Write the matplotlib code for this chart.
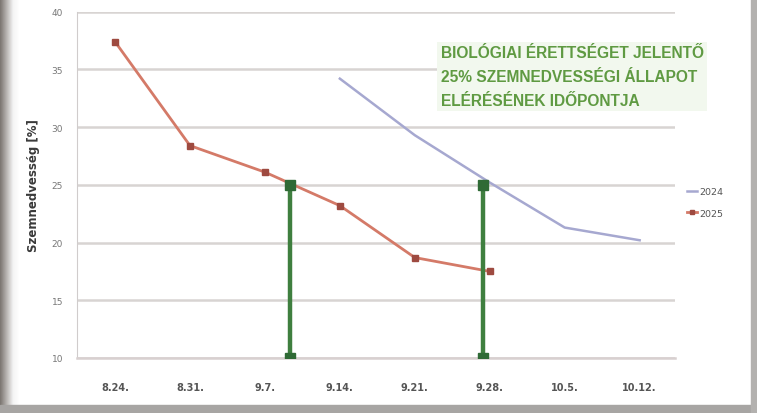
import datetime as dt
import numpy as np
import matplotlib
matplotlib.use("Agg")
import matplotlib.pyplot as plt
import matplotlib.dates as mdates
from matplotlib.patches import Rectangle

# Grain moisture measurements (month-day, moisture %)
dates_2024 = ["09-14", "09-21", "09-28", "10-05", "10-12"]
moist_2024 = [34.2, 29.3, 25.2, 21.3, 20.2]

dates_2025 = ["08-24", "08-31", "09-07", "09-14", "09-21", "09-28"]
moist_2025 = [37.4, 28.4, 26.1, 23.2, 18.7, 17.5]

# Dates (with hour) on which the 25 % moisture level was reached
threshold = 25
reach_dates = ["09-09 09", "09-27 08"]

tick_dates = ["08-24", "08-31", "09-07", "09-14", "09-21", "09-28", "10-05", "10-12"]
tick_labels = ["8.24.", "8.31.", "9.7.", "9.14.", "9.21.", "9.28.", "10.5.", "10.12."]
y_ticks = [10, 15, 20, 25, 30, 35, 40]

note = "BIOLÓGIAI ÉRETTSÉGET JELENTŐ\n25% SZEMNEDVESSÉGI ÁLLAPOT\nELÉRÉSÉNEK IDŐPONTJA"


def to_num(md):
    parts = md.split()
    m, d = parts[0].split("-")
    h = int(parts[1]) if len(parts) > 1 else 0
    return mdates.date2num(dt.datetime(2025, int(m), int(d), h))


fig = plt.figure(figsize=(7.57, 4.14), dpi=100)
fig.patch.set_facecolor("white")

# window frame: shaded left strip, bottom and right edges
frame = fig.add_axes([0, 0, 1, 1], zorder=-5)
frame.set_xlim(0, 757)
frame.set_ylim(414, 0)
frame.axis("off")
grad = np.linspace(0, 1, 20)[None, :]
frame.imshow(grad, cmap=matplotlib.colors.LinearSegmentedColormap.from_list(
    "edge", ["#7d7873", "#b9b6b3", "#f4f4f4", "#ffffff"]),
    extent=[0, 20, 414, 0], aspect="auto")
frame.add_patch(Rectangle((0, 406), 757, 8, color="#a7a5a3"))
frame.add_patch(Rectangle((751, 0), 6, 414, color="#b3b1af"))

ax = fig.add_axes([77 / 757, 1 - 359 / 414, (675 - 77) / 757, (359 - 12.7) / 414])
ax.set_facecolor("white")

x24 = [to_num(d) for d in dates_2024]
x25 = [to_num(d) for d in dates_2025]

ax.plot(x24, moist_2024, color="#a6a8d0", lw=1.8, label="2024", zorder=3)
ax.plot(x25, moist_2025, color="#d47a68", lw=2, marker="s", ms=4.2,
        mfc="#9e4a40", mec="#9e4a40", label="2025", zorder=3)

for d in reach_dates:
    xr = to_num(d)
    ax.plot([xr, xr], [y_ticks[0], threshold], color="#3f7f3f", lw=3.2,
            marker="s", ms=7, mfc="#2f6a35", mec="#2f6a35", zorder=4,
            solid_capstyle="butt")

ax.set_ylim(10, 40)
ax.set_xlim(to_num("08-24") - 3.55, to_num("10-12") + 3.3)
ax.set_yticks(y_ticks)
ax.set_yticklabels([str(v) for v in y_ticks], fontsize=6.5, color="#777777")
ax.set_xticks([to_num(d) for d in tick_dates])
ax.set_xticklabels(tick_labels, fontsize=7, color="#555555", fontweight="bold")
ax.tick_params(axis="x", length=0, pad=17)
ax.tick_params(axis="y", length=0, pad=10)

ax.grid(axis="y", color="#d8d4d2", lw=1.8)
ax.set_axisbelow(True)
for side in ("top", "right"):
    ax.spines[side].set_visible(False)
ax.spines["left"].set_color("#d0cccc")
ax.spines["bottom"].set_color("#d8d0d0")
ax.spines["bottom"].set_linewidth(1.8)

ax.set_ylabel("Szemnedvesség [%]", fontsize=8.5, fontweight="bold",
              color="#3a3a3a", labelpad=8)

ax.text(0.608, 0.903, note, transform=ax.transAxes, ha="left", va="top",
        fontsize=11.2, fontweight="bold", color="#5f9a42", family="Liberation Sans",
        linespacing=1.72,
        bbox=dict(boxstyle="square,pad=0.2", fc="#f2f8ee", ec="none"))

fig.legend(loc="upper left", bbox_to_anchor=(678 / 757, 1 - 180 / 414),
           frameon=False, fontsize=6.8, handlelength=1.1, handletextpad=0.3,
           labelspacing=1.3, markerscale=0.7, labelcolor="#555555")

fig.savefig("out.png", dpi=100)
